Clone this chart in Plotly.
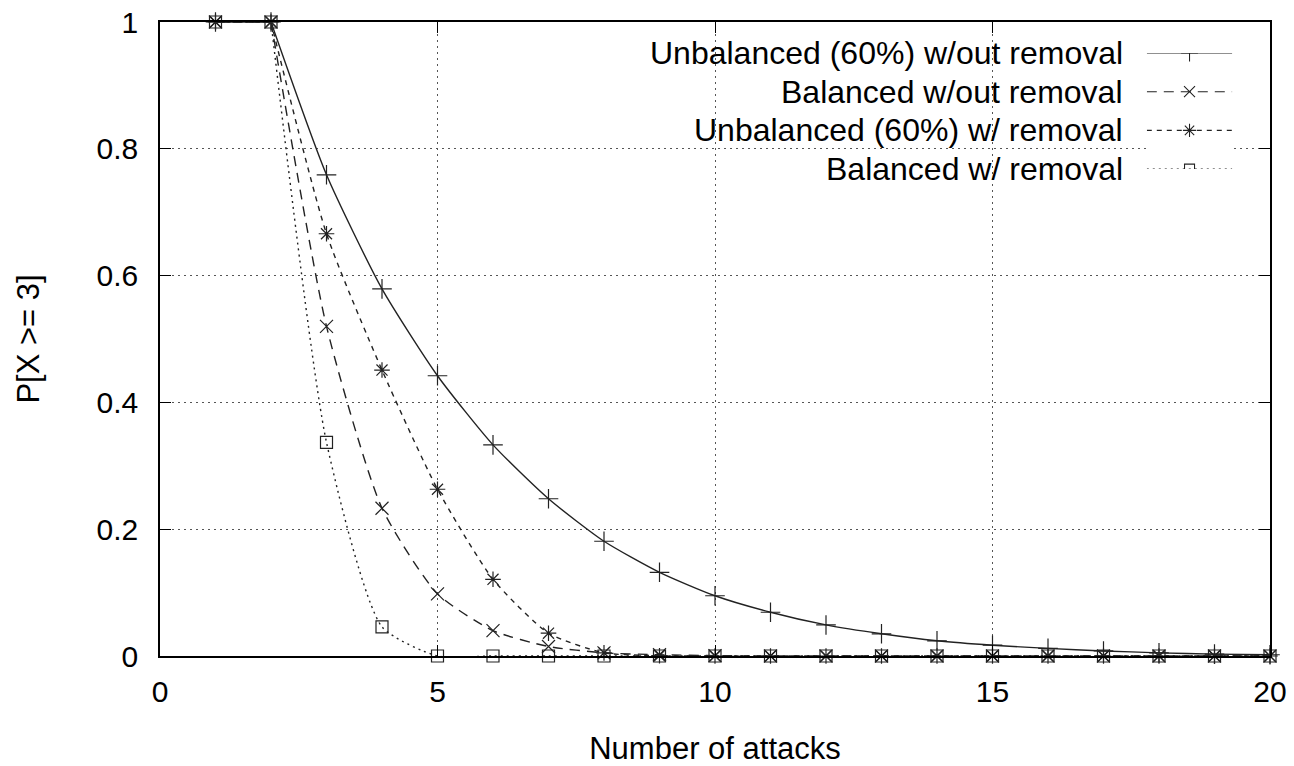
import plotly.graph_objects as go

attacks = list(range(1, 21))
unbal_wo = [1.0, 1.0, 0.759, 0.579, 0.442, 0.333, 0.248, 0.181, 0.132, 0.095,
            0.069, 0.049, 0.035, 0.024, 0.017, 0.012, 0.008, 0.005, 0.003, 0.002]
bal_wo = [1.0, 1.0, 0.520, 0.233, 0.098, 0.040, 0.015, 0.005, 0.002, 0.0005,
          0, 0, 0, 0, 0, 0, 0, 0, 0, 0]
unbal_w = [1.0, 1.0, 0.666, 0.451, 0.263, 0.121, 0.036, 0.005, 0.0005, 0,
           0, 0, 0, 0, 0, 0, 0, 0, 0, 0]
bal_w = [1.0, 1.0, 0.337, 0.046, 0, 0, 0, 0, 0, 0,
         0, 0, 0, 0, 0, 0, 0, 0, 0, 0]

labels = ["Unbalanced (60%) w/out removal", "Balanced w/out removal",
          "Unbalanced (60%) w/ removal", "Balanced w/ removal"]
series = [unbal_wo, bal_wo, unbal_w, bal_w]
dashes = ["solid", "10px,7px", "5px,5px", "2px,4px"]
symbols = ["cross-thin-open", "x-thin-open", "asterisk-open", "square-open"]
msizes = [14, 13, 13, 12]
key_sizes = [12, 11, 11, 10]
x_ticks = [0, 5, 10, 15, 20]
y_ticks = [0, 0.2, 0.4, 0.6, 0.8, 1]
y_tick_text = ["0", "0.2", "0.4", "0.6", "0.8", "1"]

FONT = "Liberation Sans"
INK = "#222222"

fig = go.Figure()
for vals, dash in zip(series, dashes):
    # flat start (straight), then a smooth curve from the second point on
    fig.add_trace(go.Scatter(
        x=attacks[:2], y=vals[:2], mode="lines", showlegend=False,
        line=dict(color=INK, width=1.4, dash=dash), hoverinfo="skip"))
    fig.add_trace(go.Scatter(
        x=attacks[1:], y=vals[1:], mode="lines", showlegend=False,
        line=dict(color=INK, width=1.4, dash=dash, shape="spline", smoothing=0.6),
        hoverinfo="skip"))
for vals, sym, ms in zip(series, symbols, msizes):
    fig.add_trace(go.Scatter(
        x=attacks, y=vals, mode="markers", showlegend=False, cliponaxis=False,
        marker=dict(symbol=sym, size=ms, color=INK, line=dict(color=INK, width=1.2))))

# legend samples (gnuplot-style key: text right-aligned, sample on the right)
for i, (dash, sym, ms) in enumerate(zip(dashes, symbols, key_sizes)):
    fig.add_trace(go.Scatter(
        x=[0, 1], y=[i, i], mode="lines", xaxis="x2", yaxis="y2", showlegend=False,
        line=dict(color=INK, width=1.1, dash=dash), hoverinfo="skip"))
    fig.add_trace(go.Scatter(
        x=[0.5], y=[i], mode="markers", xaxis="x2", yaxis="y2", showlegend=False,
        marker=dict(symbol=sym, size=ms, color=INK, line=dict(color=INK, width=1.1)),
        hoverinfo="skip"))
    fig.add_annotation(text=labels[i], xref="paper", yref="y2", x=0.869, y=i,
                       xanchor="right", yanchor="middle", showarrow=False,
                       font=dict(family=FONT, size=32, color="black"))

# opaque key box hiding grid lines
fig.add_shape(type="rect", xref="paper", yref="paper", x0=0.374, x1=0.999,
              y0=0.741, y1=0.999, fillcolor="white", line=dict(width=0),
              layer="between")

axis_common = dict(showline=True, linecolor="black", linewidth=1.5, mirror="allticks",
                   ticks="inside", ticklen=11, tickwidth=1.2, tickcolor="black",
                   showgrid=True, gridcolor="#555555", griddash="2px,4px", gridwidth=1,
                   zeroline=False, automargin=False,
                   tickfont=dict(family=FONT, size=30, color="black"))

fig.update_layout(
    width=1294, height=766,
    margin=dict(l=160, r=24, t=22, b=110),
    plot_bgcolor="white", paper_bgcolor="white",
    xaxis=dict(range=[0, 20], tickvals=x_ticks, ticklabelstandoff=8,
               title=dict(text="Number of attacks", standoff=32,
                          font=dict(family=FONT, size=31, color="black")),
               **axis_common),
    yaxis=dict(range=[0, 1], tickvals=y_ticks, ticktext=y_tick_text, ticklabelstandoff=14,
               title=dict(text="P[X >= 3]", standoff=48,
                          font=dict(family=FONT, size=31, color="black")),
               **axis_common),
    xaxis2=dict(domain=[0.889, 0.966], range=[0, 1], visible=False, anchor="y2",
                fixedrange=True),
    yaxis2=dict(domain=[0.768, 0.951], range=[3, 0], visible=False, anchor="x2",
                fixedrange=True),
)

fig.write_html("out.html")
